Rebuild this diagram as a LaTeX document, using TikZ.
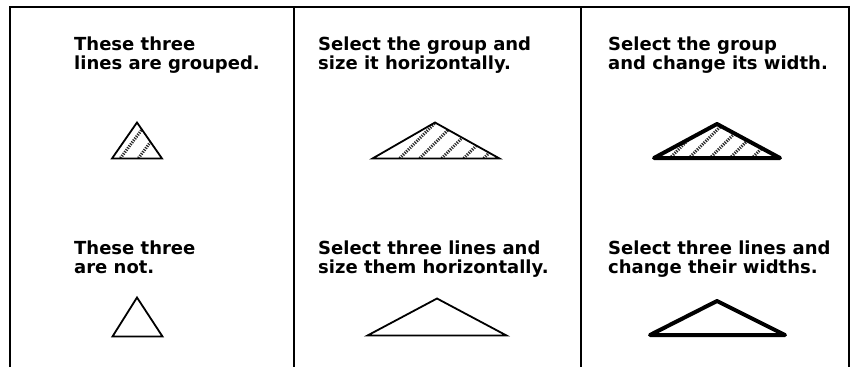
\documentclass[tikz,border=0pt]{standalone}
\usepackage{fontspec}
\setmainfont{DejaVu Sans}
\begin{document}
\begin{tikzpicture}[x=1pt,y=-1pt,
  frame/.style={line width=1.5pt},
  lbl/.style={anchor=base west, align=left, inner sep=0pt,
    font=\fontsize{18}{19}\selectfont\bfseries},
  thintri/.style={line width=1.8pt, line join=miter},
  thicktri/.style={line width=4pt, line join=round},
  hatch/.style={line width=3pt, dash pattern=on 1.2pt off 1.2pt, black!85}]
\useasboundingbox (0,0) rectangle (859,367);

% frame
\draw[frame] (10,367) -- (10,7) -- (849,7) -- (849,367);
\draw[frame] (294,7) -- (294,367);
\draw[frame] (581,7) -- (581,367);

% texts (anchor: baseline of last line)
\node[lbl] (t1) at (74,69) {These three\\lines are grouped.};
\node[lbl] (t2) at (318,69) {Select the group and\\size it horizontally.};
\node[lbl] (t3) at (608,69) {Select the group\\and change its width.};
\node[lbl] (b1) at (74,273) {These three\\are not.};
\node[lbl] (b2) at (318,273) {Select three lines and\\size them horizontally.};
\node[lbl] (b3) at (608,273) {Select three lines and\\change their widths.};

% panel 1 top, grouped
\begin{scope}
  \clip (137,122) -- (112,158.5) -- (162,158.5) -- cycle;
  \foreach \s in {119,137} \draw[hatch] (\s,160) -- ++(30,-40);
\end{scope}
\draw[thintri] (137,122.5) -- (112,158.5) -- (162,158.5) -- cycle;

% panel 1 bottom
\draw[thintri] (137,297.5) -- (112.5,336.5) -- (162.5,336.5) -- cycle;

% panel 2 top, grouped
\begin{scope}
  \clip (435,122.5) -- (372.5,158.5) -- (499.5,158.5) -- cycle;
  \foreach \s in {398,418,440,462,482} \draw[hatch] (\s,160) -- ++(60,-60);
\end{scope}
\draw[thintri] (435,122.5) -- (372.5,158.5) -- (499.5,158.5) -- cycle;

% panel 2 bottom
\draw[thintri] (437,298.5) -- (367.5,335.5) -- (506.5,335.5) -- cycle;

% panel 3 top, grouped, thick
\begin{scope}
  \clip (717,124) -- (654,158) -- (780,158) -- cycle;
  \foreach \s in {668,687,708,728,750} \draw[hatch] (\s,160) -- ++(60,-60);
\end{scope}
\draw[thicktri] (717,124) -- (654,158) -- (780,158) -- cycle;

% panel 3 bottom, thick
\draw[thicktri] (717,301) -- (650,335) -- (785,335) -- cycle;
\end{tikzpicture}
\end{document}
